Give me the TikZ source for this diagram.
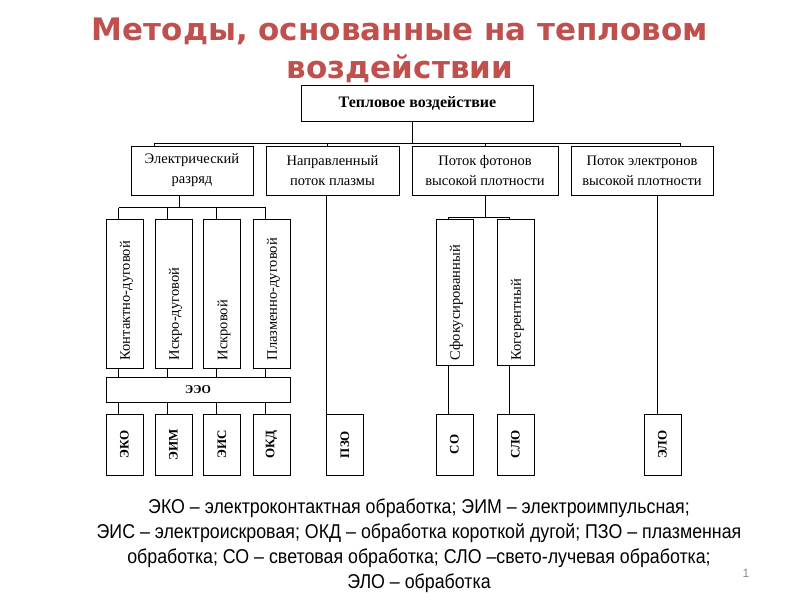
\documentclass[tikz,border=0pt]{standalone}
\usepackage{fontspec}
\usepackage{graphicx}
\setmainfont{Liberation Serif}
\newfontfamily\titlefont{DejaVu Sans}
\newfontfamily\pgfont{Liberation Sans}
\newfontfamily\narrowfont[FakeStretch=0.89]{Liberation Sans}
\usetikzlibrary{calc}
\definecolor{titlered}{HTML}{C0504D}
\definecolor{pgnum}{HTML}{8C8C8C}
\tikzset{
  box/.style={draw, line width=1pt, inner sep=0pt, align=center, font=\fontsize{14.5}{20}\selectfont},
  hbox/.style={box, minimum height=49pt},
  vbox/.style={box, minimum width=37pt, minimum height=149pt},
  vtext/.style={rotate=90, anchor=west, inner sep=0pt, font=\fontsize{14.5}{17}\selectfont},
  sbox/.style={box, minimum width=37pt, minimum height=61pt, font=\fontsize{13}{15}\selectfont\bfseries},
  conn/.style={line width=1pt}
}
\begin{document}
\begin{tikzpicture}[x=1pt,y=-1pt]
\useasboundingbox (0,0) rectangle (800,600);
% title
\node[titlered, font=\titlefont\bfseries\fontsize{31}{38}\selectfont, align=center] (title) at (400,50) {Методы, основанные на тепловом\\воздействии};
% top
\node[box, minimum width=232pt, minimum height=36pt, font=\fontsize{16}{18}\selectfont\bfseries] (top) at (417.5,103.5) {Тепловое воздействие};
% level 2
\node[hbox, minimum width=122pt] (b1) at (192,170.5) {Электрический\\разряд};
\node[hbox, minimum width=133pt] (b2) at (332.5,170.5) {Направленный\\поток плазмы};
\node[hbox, minimum width=146pt] (b3) at (485,170.5) {Поток фотонов\\высокой плотности};
\node[hbox, minimum width=142pt] (b4) at (642,170.5) {Поток электронов\\высокой плотности};
% vertical boxes
\node[vbox] (v1) at (124.5,293.5) {};
\node[vbox] (v2) at (173.5,293.5) {};
\node[vbox] (v3) at (222,293.5) {};
\node[vbox] (v4) at (271.5,293.5) {};
\node[vbox, minimum height=146pt] (v5) at (454.5,292) {};
\node[vbox, minimum height=146pt] (v6) at (515.5,292) {};
\node[vtext] (lv1) at ($(v1.south)+(2,-8)$) {Контактно-дуговой};
\node[vtext] (lv2) at ($(v2.south)+(2,-8)$) {Искро-дуговой};
\node[vtext] (lv3) at ($(v3.south)+(2,-8)$) {Искровой};
\node[vtext] (lv4) at ($(v4.south)+(2,-8)$) {Плазменно-дуговой};
\node[vtext] (lv5) at ($(v5.south)+(2,-5)$) {Сфокусированный};
\node[vtext] (lv6) at ($(v6.south)+(2,-5)$) {Когерентный};
% EEO
\node[box, minimum width=184pt, minimum height=25pt, font=\fontsize{12}{14}\selectfont\bfseries] (eeo) at (198,389.5) {ЭЭО};
% small boxes
\node[sbox] (k1) at (124.5,444.5) {\rotatebox{90}{ЭКО}};
\node[sbox] (k2) at (173.5,444.5) {\rotatebox{90}{ЭИМ}};
\node[sbox] (k3) at (222,444.5) {\rotatebox{90}{ЭИС}};
\node[sbox] (k4) at (271.5,444.5) {\rotatebox{90}{ОКД}};
\node[sbox] (k5) at (345,444.5) {\rotatebox{90}{ПЗО}};
\node[sbox] (k6) at (454.5,444.5) {\rotatebox{90}{СО}};
\node[sbox] (k7) at (515.5,444.5) {\rotatebox{90}{СЛО}};
\node[sbox] (k8) at (662.5,444.5) {\rotatebox{90}{ЭЛО}};
% connectors: top level
\coordinate (t0) at ($(top.south)+(-5.5,0)$);
\coordinate (bus1) at ($(t0)+(0,21)$);
\coordinate (d1) at ($(b1.north)+(-38,0)$);
\coordinate (d2) at ($(b2.north)+(-5.5,0)$);
\coordinate (d3) at ($(b3.north)$);
\coordinate (d4) at ($(b4.north)+(38,0)$);
\draw[conn] (t0) -- (bus1);
\draw[conn] (d1) -- (d1 |- bus1) -- (d4 |- bus1) -- (d4);
\draw[conn] (d2) -- (d2 |- bus1);
\draw[conn] (d3) -- (d3 |- bus1);
% electric discharge branch
\coordinate (e0) at ($(b1.south)+(-13,0)$);
\coordinate (bus2) at ($(e0)+(0,12)$);
\foreach \i in {1,...,4} {
  \coordinate (u\i) at ($(v\i.north)+(-6,0)$);
  \coordinate (w\i) at ($(v\i.south)+(-6,0)$);
  \draw[conn] (u\i) -- (u\i |- bus2);
  \draw[conn] (w\i) -- (w\i |- eeo.north);
  \draw[conn] (w\i |- eeo.south) -- (w\i |- k\i.north);
}
\draw[conn] (e0) -- (bus2);
\draw[conn] (u1 |- bus2) -- (u4 |- bus2);
% plasma
\coordinate (p0) at ($(b2.south)+(-6.5,0)$);
\draw[conn] (p0) -- (p0 |- k5.north);
% photons
\coordinate (f0) at (b3.south);
\coordinate (u5) at ($(v5.north)+(-6.5,0)$);
\coordinate (u6) at ($(v6.north)+(-6.5,0)$);
\coordinate (bus3) at ($(f0)+(0,22)$);
\draw[conn] (f0) -- (bus3);
\draw[conn] (u5) -- (u5 |- bus3) -- (u6 |- bus3) -- (u6);
\coordinate (w5) at ($(v5.south)+(-6.5,0)$);
\coordinate (w6) at ($(v6.south)+(-6.5,0)$);
\draw[conn] (w5) -- (w5 |- k6.north);
\draw[conn] (w6) -- (w6 |- k7.north);
% electrons
\coordinate (g0) at ($(b4.south)+(15,0)$);
\draw[conn] (g0) -- (g0 |- k8.north);
% legend
\node[font=\narrowfont\fontsize{20}{25}\selectfont, align=center] (legend) at (419,546) {ЭКО – электроконтактная обработка; ЭИМ – электроимпульсная;\\ЭИС – электроискровая; ОКД – обработка короткой дугой; ПЗО – плазменная\\обработка; СО – световая обработка; СЛО –свето-лучевая обработка;\\ЭЛО – обработка};
\node[pgnum, font=\pgfont\fontsize{12}{14}\selectfont] (pg) at (746,573) {1};
\end{tikzpicture}
\end{document}
